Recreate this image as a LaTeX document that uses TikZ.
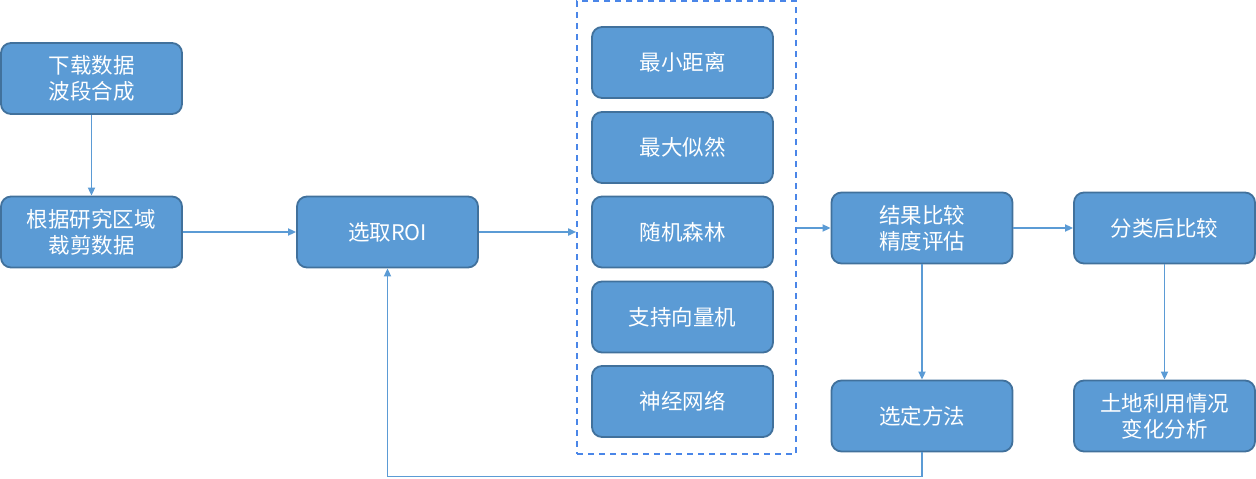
\documentclass[tikz,border=0pt]{standalone}
\usepackage{fontspec}
\newfontfamily\cjk{Noto Sans CJK SC}
\usetikzlibrary{arrows.meta,calc}
\definecolor{boxfill}{HTML}{5B9BD5}
\definecolor{boxedge}{HTML}{41719C}
\definecolor{arrowc}{HTML}{5B9BD5}
\definecolor{dashc}{HTML}{4A86E8}
\tikzset{
  box/.style={draw=boxedge, fill=boxfill, line width=1.8pt, rounded corners=10pt,
    minimum width=181pt, minimum height=71pt, inner sep=0pt, text=white,
    align=center, font=\cjk\fontsize{21.5}{26}\selectfont},
  conn/.style={draw=arrowc, line width=1.7pt, -{Triangle[length=8pt,width=7pt]}},
  group/.style={draw=dashc, line width=1.6pt, dash pattern=on 6pt off 5pt,
    minimum width=219pt, minimum height=453pt, inner sep=0pt}
}
\begin{document}
\begin{tikzpicture}[x=1pt,y=-1pt]
\useasboundingbox (0,0) rectangle (1256,479);
\node[box] (a) at (91.5,78.5) {下载数据\\波段合成};
\node[box] (b) at (91.5,232) {根据研究区域\\裁剪数据};
\node[box] (c) at (387.5,232) {选取ROI};
\node[group] (g) at (686.5,227.5) {};
\node[box] (m1) at (682.5,62.5) {最小距离};
\node[box] (m2) at (682.5,147.5) {最大似然};
\node[box] (m3) at (682.5,232) {随机森林};
\node[box] (m4) at (682.5,317) {支持向量机};
\node[box] (m5) at (682.5,401.5) {神经网络};
\node[box] (d) at (922,228) {结果比较\\精度评估};
\node[box] (e) at (922,416) {选定方法};
\node[box] (f) at (1164.5,228) {分类后比较};
\node[box] (h) at (1164.5,416) {土地利用情况\\变化分析};
\draw[conn] (a) -- (b);
\draw[conn] (b) -- (c);
\draw[conn] (c.east) -- (c.east -| g.west);
\draw[conn] (g.east |- d.west) -- (d.west);
\draw[conn] (d) -- (f);
\draw[conn] (d) -- (e);
\draw[conn] (f) -- (h);
\draw[conn] (e.south) -- ++(0,24) -| (c.south);
\end{tikzpicture}
\end{document}
